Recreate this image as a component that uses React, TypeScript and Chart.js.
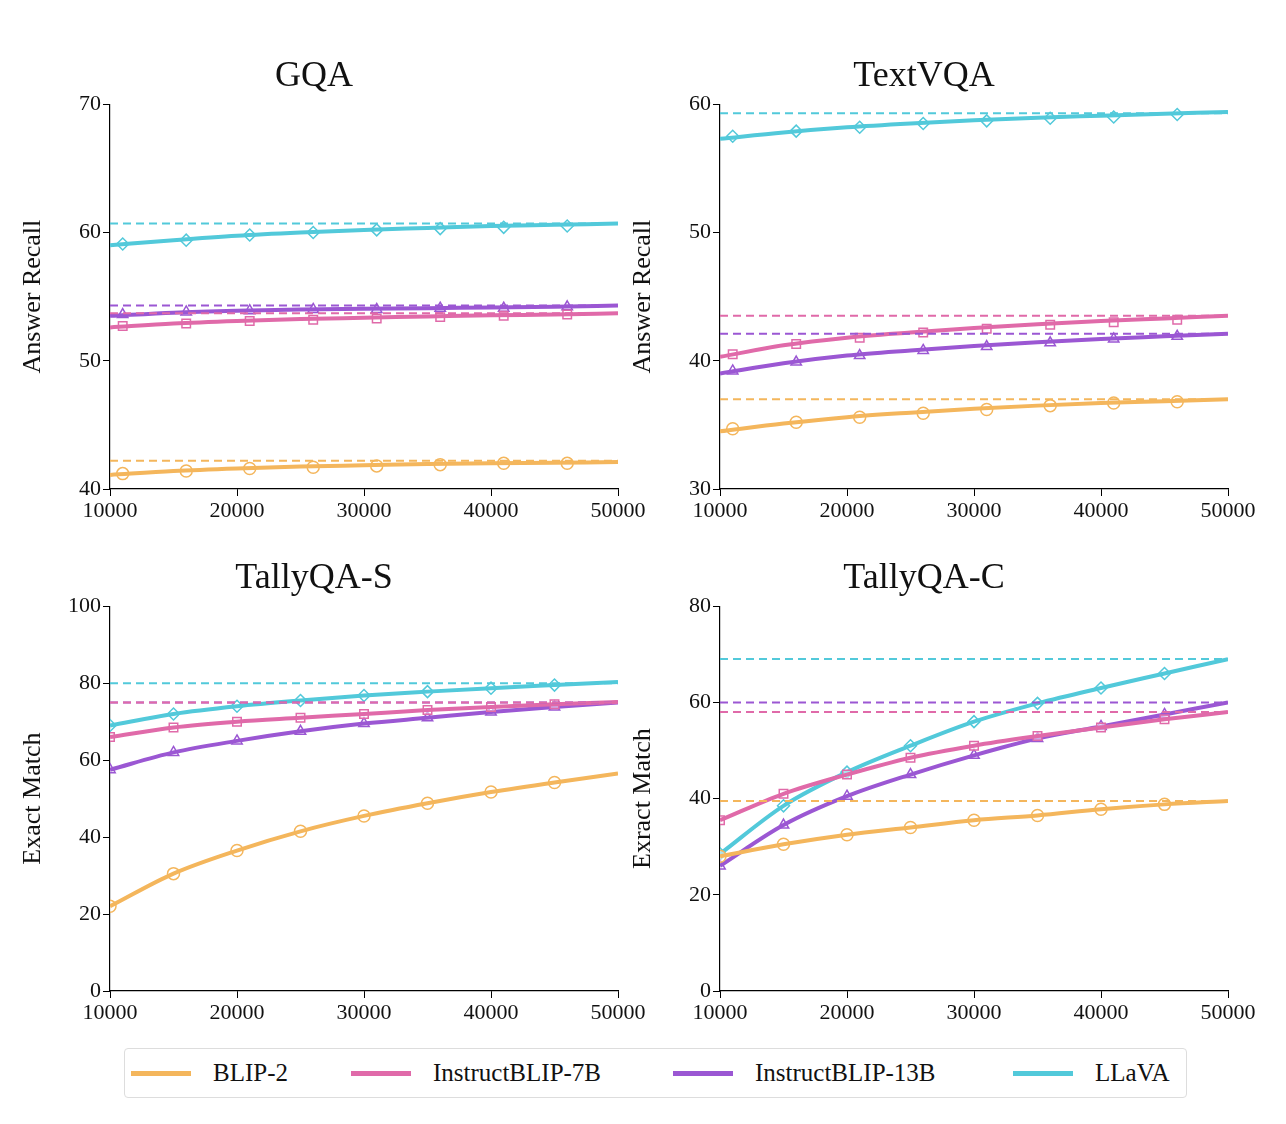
import React, { useEffect, useRef } from "react";
import { Chart, registerables } from "chart.js";
Chart.register(...registerables);

const models = ["BLIP-2", "InstructBLIP-7B", "InstructBLIP-13B", "LLaVA"];
const colors = ["#f4b65c", "#e06aa9", "#9b57d3", "#52c9da"];
const markerStyles = ["circle", "rect", "triangle", "rectRot"];

const curveX = [10000, 15000, 20000, 25000, 30000, 35000, 40000, 45000, 50000];
const markX1 = [11000, 16000, 21000, 26000, 31000, 36000, 41000, 46000];
const markX2 = [10000, 15000, 20000, 25000, 30000, 35000, 40000, 45000];

// GQA
const gqaCurve = [
  [41.1, 41.4, 41.6, 41.75, 41.85, 41.95, 42.0, 42.05, 42.1],
  [52.6, 52.9, 53.1, 53.25, 53.35, 53.45, 53.55, 53.6, 53.7],
  [53.5, 53.75, 53.9, 54.0, 54.05, 54.1, 54.15, 54.2, 54.3],
  [59.0, 59.4, 59.75, 60.0, 60.2, 60.35, 60.5, 60.6, 60.7],
];
const gqaMarks = [
  [41.2, 41.4, 41.6, 41.7, 41.8, 41.9, 42.0, 42.0],
  [52.7, 52.9, 53.1, 53.2, 53.3, 53.4, 53.5, 53.6],
  [53.6, 53.8, 53.9, 54.0, 54.0, 54.1, 54.1, 54.2],
  [59.1, 59.4, 59.8, 60.0, 60.2, 60.3, 60.4, 60.5],
];
const gqaDash = [42.2, 53.7, 54.3, 60.7];

// TextVQA
const tvCurve = [
  [34.5, 35.1, 35.6, 35.95, 36.25, 36.5, 36.7, 36.85, 37.0],
  [40.3, 41.2, 41.8, 42.2, 42.55, 42.85, 43.1, 43.3, 43.5],
  [39.0, 39.8, 40.4, 40.8, 41.15, 41.45, 41.7, 41.9, 42.1],
  [57.3, 57.8, 58.2, 58.5, 58.75, 58.95, 59.1, 59.25, 59.4],
];
const tvMarks = [
  [34.7, 35.2, 35.6, 35.9, 36.2, 36.5, 36.7, 36.8],
  [40.5, 41.3, 41.8, 42.2, 42.5, 42.8, 43.0, 43.2],
  [39.2, 39.9, 40.4, 40.8, 41.1, 41.4, 41.7, 41.9],
  [57.5, 57.9, 58.2, 58.5, 58.7, 58.9, 59.0, 59.2],
];
const tvDash = [37.0, 43.5, 42.1, 59.3];

// TallyQA-S
const tsMarks = [
  [22, 30.5, 36.5, 41.5, 45.5, 48.8, 51.7, 54.2],
  [66, 68.5, 70, 71, 72, 73, 73.8, 74.5],
  [57.5, 62, 65, 67.5, 69.5, 71, 72.5, 73.8],
  [69, 72, 74, 75.5, 76.8, 77.8, 78.7, 79.5],
];
const tsEnd = [56.5, 75.1, 75.0, 80.3];
const tsDash = [null, 75.0, 75.0, 80.0];

// TallyQA-C
const tcMarks = [
  [28, 30.5, 32.5, 34, 35.5, 36.5, 37.8, 38.8],
  [35.5, 41, 45, 48.5, 51, 53, 54.8, 56.5],
  [26, 34.5, 40.5, 45, 49, 52.5, 55, 57.5],
  [28.5, 38.5, 45.5, 51, 56, 59.8, 63, 66],
];
const tcEnd = [39.5, 58, 60, 69];
const tcDash = [39.5, 58, 60, 69];

const FONT = "'Liberation Serif', 'DejaVu Serif', serif";

function pts(xs: number[], ys: (number | null)[]) {
  return xs.map((x, i) => ({ x, y: ys[i] as number }));
}

function buildDatasets(curves: number[][], marks: number[][], mx: number[], dash: (number | null)[]) {
  const ds: any[] = [];
  for (let m = 0; m < 4; m++) {
    if (dash[m] !== null) {
      ds.push({
        data: [{ x: 10000, y: dash[m] }, { x: 50000, y: dash[m] }],
        borderColor: colors[m], borderWidth: 2, borderDash: [8, 5], pointRadius: 0,
      });
    }
  }
  for (let m = 0; m < 4; m++) {
    ds.push({
      data: pts(curveX, curves[m]), borderColor: colors[m], borderWidth: 4,
      pointRadius: 0, cubicInterpolationMode: "monotone",
    });
    ds.push({
      data: pts(mx, marks[m]), showLine: false, borderColor: colors[m], borderWidth: 1.5,
      backgroundColor: "rgba(255,255,255,0.5)", pointStyle: markerStyles[m], pointRadius: 6,
    });
  }
  return ds;
}

function tallyCurves(marks: number[][], end: number[]) {
  return marks.map((r, i) => [...r, end[i]]);
}

const panels = [
  { title: "GQA", ytitle: "Answer Recall", min: 40, max: 70, step: 10,
    ds: () => buildDatasets(gqaCurve, gqaMarks, markX1, gqaDash) },
  { title: "TextVQA", ytitle: "Answer Recall", min: 30, max: 60, step: 10,
    ds: () => buildDatasets(tvCurve, tvMarks, markX1, tvDash) },
  { title: "TallyQA-S", ytitle: "Exact Match", min: 0, max: 100, step: 20,
    ds: () => buildDatasets(tallyCurves(tsMarks, tsEnd), tsMarks, markX2, tsDash) },
  { title: "TallyQA-C", ytitle: "Exract Match", min: 0, max: 80, step: 20,
    ds: () => buildDatasets(tallyCurves(tcMarks, tcEnd), tcMarks, markX2, tcDash) },
];

function Panel({ p }: { p: any }) {
  const ref = useRef<HTMLCanvasElement>(null);
  useEffect(() => {
    const axisCommon = {
      grid: { display: true, drawOnChartArea: false, drawTicks: true, tickLength: 7, tickColor: "#000" },
      border: { display: true, color: "#000", width: 1.2 },
      ticks: { color: "#111", font: { family: FONT, size: 22 }, padding: 2 },
    };
    const c = new Chart(ref.current!, {
      type: "line",
      data: { datasets: p.ds() },
      options: {
        animation: false, responsive: false, maintainAspectRatio: false,
        layout: { padding: { right: 40, top: 0, left: 2 } },
        plugins: {
          legend: { display: false }, tooltip: { enabled: false },
          title: { display: true, text: p.title, color: "#111", font: { family: FONT, size: 36, weight: "normal" }, padding: { top: 0, bottom: 6 } },
        },
        scales: {
          x: { type: "linear", min: 10000, max: 50000, ...axisCommon,
            afterFit: (s: any) => { s.height = 40; },
            ticks: { ...axisCommon.ticks, stepSize: 10000, maxRotation: 0, callback: (v: any) => String(v) } },
          y: { type: "linear", min: p.min, max: p.max, ...axisCommon,
            afterFit: (s: any) => { s.width = 100; },
            ticks: { ...axisCommon.ticks, stepSize: p.step },
            title: { display: true, text: p.ytitle, color: "#111", font: { family: FONT, size: 26 }, padding: 8 } },
        },
      } as any,
    });
    return () => c.destroy();
  }, []);
  return <canvas ref={ref} width={650} height={474} style={{ width: 650, height: 474 }} />;
}

const legendX = [122, 342, 664, 1004];

export default function App() {
  const pos = [
    { left: 0, top: 47 },
    { left: 610, top: 47 },
    { left: 0, top: 549 },
    { left: 610, top: 549 },
  ];
  return (
    <div style={{ position: "relative", width: 1270, height: 1108, background: "#fff" }}>
      {panels.map((p, i) => (
        <div key={i} style={{ position: "absolute", left: pos[i].left, top: pos[i].top }}>
          <Panel p={p} />
        </div>
      ))}
      <div style={{
        position: "absolute", left: 116, top: 1040, width: 1063, height: 50,
        border: "1px solid #ddd", borderRadius: 4,
        fontFamily: FONT, fontSize: 25, color: "#111", boxSizing: "border-box",
      }}>
        {models.map((m, i) => (
          <div key={m} style={{ position: "absolute", left: legendX[i] - 116, top: 0, height: 48, display: "flex", alignItems: "center" }}>
            <div style={{ width: 60, height: 5, background: colors[i], marginRight: 22 }} />
            <span>{m}</span>
          </div>
        ))}
      </div>
    </div>
  );
}
